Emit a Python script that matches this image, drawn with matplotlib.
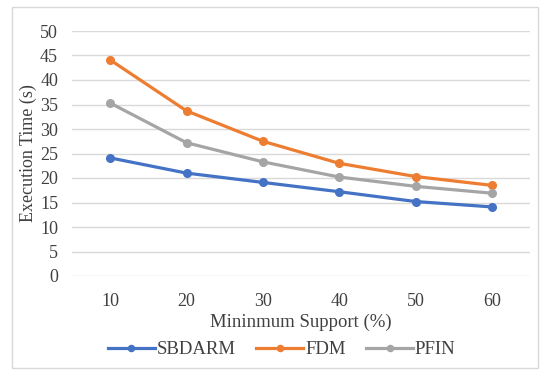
import matplotlib
matplotlib.use("Agg")
import matplotlib.pyplot as plt
from matplotlib.patches import Rectangle

categories = ["10", "20", "30", "40", "50", "60"]
sbdarm = [24.1, 21.0, 19.1, 17.2, 15.2, 14.1]
fdm = [44.1, 33.7, 27.5, 23.0, 20.3, 18.5]
pfin = [35.3, 27.2, 23.3, 20.2, 18.3, 16.9]
yticks = [0, 5, 10, 15, 20, 25, 30, 35, 40, 45, 50]

plt.rcParams['font.family'] = ['Liberation Serif', 'DejaVu Serif']

fig = plt.figure(figsize=(5.43, 3.70), dpi=100)
ax = fig.add_axes([72/543, 1 - 276/370, (530-72)/543, (276-31)/370])

x = list(range(len(categories)))
ax.plot(x, sbdarm, color="#4472C4", lw=2.3, marker="o", ms=5.5, label="SBDARM")
ax.plot(x, fdm, color="#ED7D31", lw=2.3, marker="o", ms=5.5, label="FDM")
ax.plot(x, pfin, color="#A5A5A5", lw=2.3, marker="o", ms=5.5, label="PFIN")

ax.set_xlim(-0.5, len(categories) - 0.5)
ax.set_ylim(0, 50)
ax.set_yticks(yticks)
ax.set_xticks(x)
ax.set_xticklabels(categories)
ax.grid(axis="y", color="#D9D9D9", lw=1)
ax.set_axisbelow(True)
for s in ax.spines.values():
    s.set_visible(False)
ax.tick_params(length=0, labelsize=13, colors="#404040")
ax.tick_params(axis="x", pad=12)
ax.tick_params(axis="y", pad=10)
ax.set_xlabel("Mininmum Support (%)", fontsize=13.5, color="#404040", labelpad=3)
ax.set_ylabel("Execution Time (s)", fontsize=13, color="#404040", labelpad=2)
leg = ax.legend(loc="center", bbox_to_anchor=(0.458, -0.30), ncol=3, frameon=False,
                fontsize=13.5, handlelength=2.5, columnspacing=1.1, handletextpad=0.1,
                labelcolor="#404040", markerscale=0.8)

fig.patches.append(Rectangle((12/543, 2/370), (538-12)/543, (363-2)/370,
                             transform=fig.transFigure, fill=False,
                             edgecolor="#D9D9D9", lw=1))
fig.savefig("out.png", dpi=100)
